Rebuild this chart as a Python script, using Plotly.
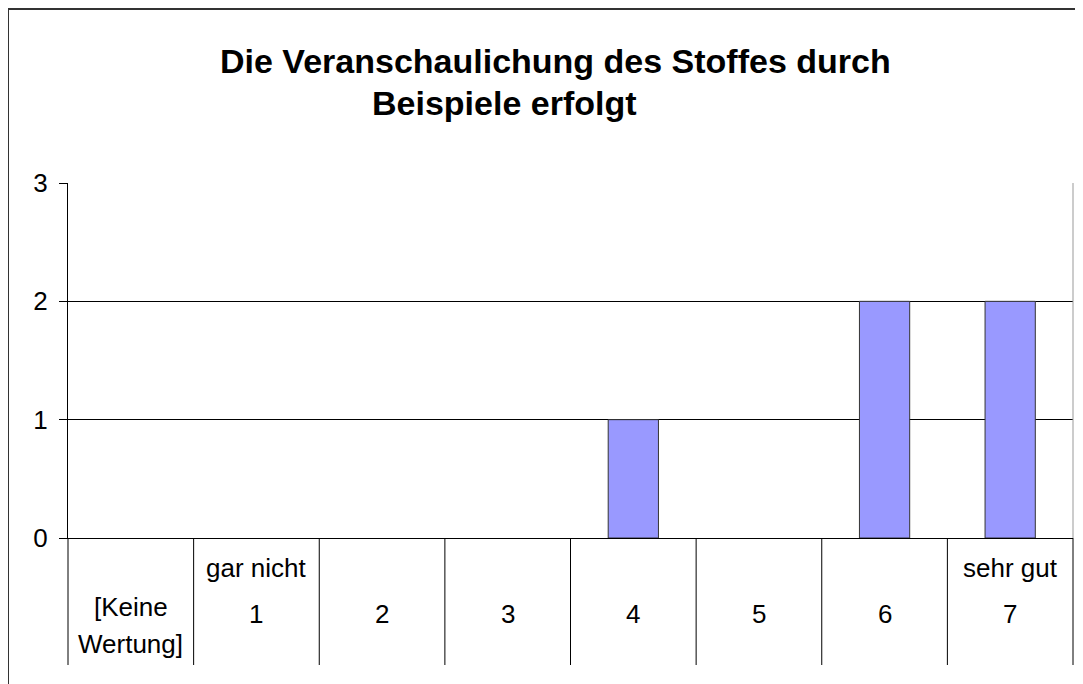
import plotly.graph_objects as go

categories = ["[Keine Wertung]", "1", "2", "3", "4", "5", "6", "7"]
main_labels = ["[Keine<br>Wertung]", "1", "2", "3", "4", "5", "6", "7"]
top_labels = ["", "gar nicht", "", "", "", "", "", "sehr gut"]
counts = [0, 0, 0, 0, 1, 0, 2, 2]
y_ticks = [0, 1, 2, 3]

# the page body has an 8px margin, so work in div coordinates
OFF = 8
W, H = 1083 - OFF, 684 - OFF
L, R, T, B = 68 - OFF, 1073 - OFF, 183 - OFF, 538 - OFF   # plot area in pixels


def px_x(p):
    return (p - OFF - L) / (R - L)


def px_y(p):
    return (B - (p - OFF)) / (B - T)


font = "Liberation Sans, Arial, sans-serif"

fig = go.Figure(go.Bar(
    x=categories, y=[v if v else None for v in counts], width=0.4,
    marker=dict(color="#9999ff", line=dict(color="#333333", width=1)),
))

shapes = []
n = len(categories)
# cell separators below the axis
for k in range(n + 1):
    shapes.append(dict(type="line", xref="paper", yref="paper",
                       x0=k / n, x1=k / n, y0=0, y1=px_y(665),
                       line=dict(color="#000000", width=1)))
# right border of plot area
shapes.append(dict(type="line", xref="paper", yref="paper", x0=1, x1=1, y0=0, y1=1,
                   line=dict(color="#999999", width=1)))
# outer chart frame
shapes.append(dict(type="rect", xref="paper", yref="paper",
                   x0=px_x(8), x1=px_x(1100), y0=px_y(9), y1=px_y(720),
                   line=dict(color="#333333", width=2)))

lab_font = dict(size=26, color="black", family=font)
annotations = []
for c, lab, top in zip(categories, main_labels, top_labels):
    parts = lab.split("<br>")
    ys = [607, 644] if len(parts) == 2 else [614]
    for part, yy in zip(parts, ys):
        annotations.append(dict(x=c, xref="x", y=px_y(yy), yref="paper", text=part,
                                xanchor="center", yanchor="middle",
                                showarrow=False, font=lab_font))
    if top:
        annotations.append(dict(x=c, xref="x", y=px_y(568), yref="paper", text=top,
                                xanchor="center", yanchor="middle",
                                showarrow=False, font=lab_font))

title_font = dict(size=34, color="black", family=font)
annotations.append(dict(x=px_x(555), y=px_y(61), xref="paper", yref="paper",
                        text="<b>Die Veranschaulichung des Stoffes durch</b>",
                        xanchor="center", yanchor="middle",
                        showarrow=False, font=title_font))
annotations.append(dict(x=px_x(504), y=px_y(103), xref="paper", yref="paper",
                        text="<b>Beispiele erfolgt</b>",
                        xanchor="center", yanchor="middle",
                        showarrow=False, font=title_font))

fig.update_layout(
    width=W, height=H,
    margin=dict(l=L, r=W - R, t=T, b=H - B),
    paper_bgcolor="white", plot_bgcolor="white",
    showlegend=False,
    shapes=shapes, annotations=annotations,
    xaxis=dict(showticklabels=False, showgrid=False, showline=True,
               linecolor="black", linewidth=1, ticks="", range=[-0.5, 7.5]),
    yaxis=dict(range=[0, 3], tickvals=y_ticks, showgrid=True, gridcolor="black",
               gridwidth=1, showline=True, linecolor="black", linewidth=1,
               ticks="outside", ticklen=8, tickcolor="black", zeroline=False,
               ticklabelstandoff=6, tickfont=lab_font),
)

fig.write_html("out.html")
